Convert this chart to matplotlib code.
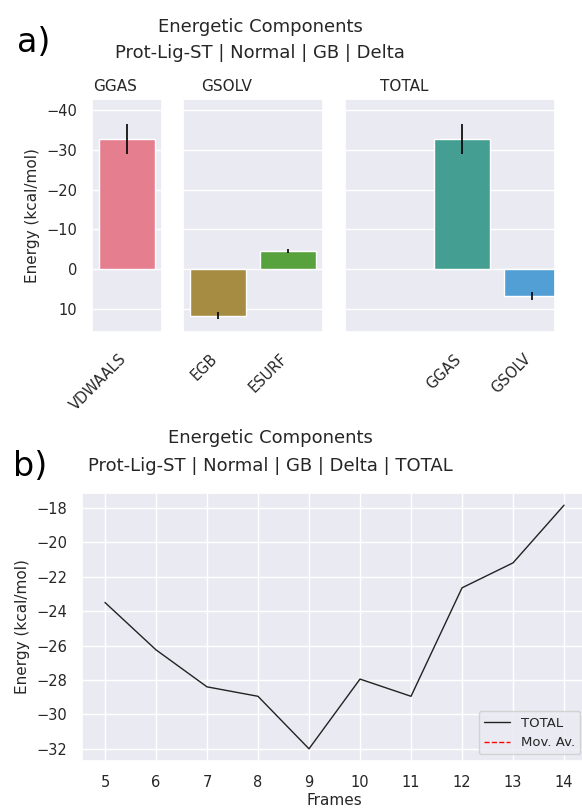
import numpy as np
import pandas as pd
import matplotlib
matplotlib.use('Agg')
from matplotlib import pyplot as plt
import seaborn as sns

# energy terms (kcal/mol): mean and std for each group
ggas_terms = ['VDWAALS']
ggas_means = [-32.8]
ggas_stds = [3.8]

gsolv_terms = ['EGB', 'ESURF']
gsolv_means = [11.7, -4.6]
gsolv_stds = [0.9, 0.6]

total_terms = ['GGAS', 'GSOLV']
total_means = [-32.8, 6.8]
total_stds = [3.8, 1.0]

term_colors = {
    'VDWAALS': '#e57f90',
    'EGB': '#a68c42',
    'ESURF': '#58a23e',
    'GGAS': '#449e91',
    'GSOLV': '#529fd6',
}

# per-frame TOTAL energy
frames = [5, 6, 7, 8, 9, 10, 11, 12, 13, 14]
total_energy = [-23.5, -26.25, -28.4, -28.95, -32.0, -27.95, -28.95, -22.65, -21.2, -17.85]

sns.set_theme(style='darkgrid')
plt.rcParams['font.family'] = ['DejaVu Sans']

W, H = 582, 809
fig = plt.figure(figsize=(W / 100, H / 100), dpi=100)


def px_axes(x0, x1, y0, y1):
    # axes box given in pixels from the top-left corner
    return fig.add_axes([x0 / W, (H - y1) / H, (x1 - x0) / W, (y1 - y0) / H])


def bar_group(ax, terms, means, stds, title, title_x):
    pos = np.arange(len(terms))
    ax.bar(pos, means, width=0.8, color=[term_colors[t] for t in terms],
           edgecolor='white', linewidth=1)
    ax.errorbar(pos, means, yerr=stds, fmt='none', ecolor='black', elinewidth=1.2, capsize=0)
    ax.set_xticks(pos)
    ax.set_xticklabels(terms, rotation=45, ha='right', va='baseline',
                       rotation_mode='anchor', fontsize=10.5)
    ax.xaxis.grid(False)
    ax.set_title(title, fontsize=11, x=title_x, color='0.15')
    ax.set_ylim(15.8, -42.8)
    ax.set_yticks([-40, -30, -20, -10, 0, 10])
    ax.tick_params(axis='both', length=0, labelsize=10.5)
    ax.tick_params(axis='y', pad=10.5)
    ax.tick_params(axis='x', pad=20)


# a) grouped bar chart
ax1 = px_axes(92, 162, 99, 332)
ax2 = px_axes(183, 323, 99, 332)
ax3 = px_axes(345, 555, 99, 332)

bar_group(ax1, ggas_terms, ggas_means, ggas_stds, 'GGAS', 0.33)
bar_group(ax2, gsolv_terms, gsolv_means, gsolv_stds, 'GSOLV', 0.31)
bar_group(ax3, total_terms, total_means, total_stds, 'TOTAL', 0.28)
ax1.set_xlim(-0.5, 0.5)
ax2.set_xlim(-0.5, 1.5)
ax3.set_xlim(-1.67, 1.33)
ax1.set_ylabel('Energy (kcal/mol)', fontsize=11, labelpad=4.5)
ax2.tick_params(axis='y', labelleft=False)
ax3.tick_params(axis='y', labelleft=False)

fig.text(260 / W, 1 - 32 / H, 'Energetic Components', ha='center', va='baseline',
         fontsize=13, color='0.15')
fig.text(260 / W, 1 - 58 / H, 'Prot-Lig-ST | Normal | GB | Delta', ha='center', va='baseline',
         fontsize=13, color='0.15')
fig.text(17 / W, 1 - 52 / H, 'a)', fontsize=24, va='baseline', color='black')

# b) per-frame line plot
ax4 = px_axes(82, 587, 493, 761)
df = pd.DataFrame({'TOTAL': total_energy}, index=frames)
mov_av = df['TOTAL'].rolling(50).mean()
ax4.plot(df.index, df['TOTAL'], color='#222222', linewidth=1, label='TOTAL')
ax4.plot(df.index, mov_av, color='red', linestyle='--', linewidth=1, label='Mov. Av.')
ax4.set_xticks(frames)
ax4.set_yticks([-32, -30, -28, -26, -24, -22, -20, -18])
ax4.tick_params(axis='both', length=0, labelsize=10.5)
ax4.tick_params(axis='y', pad=10.5)
ax4.tick_params(axis='x', pad=10)
ax4.set_xlabel('Frames', fontsize=11, labelpad=2)
ax4.set_ylabel('Energy (kcal/mol)', fontsize=11, labelpad=4.5)
ax4.legend(loc='lower right', fontsize=9.5)

fig.text(270 / W, 1 - 443 / H, 'Energetic Components', ha='center', va='baseline',
         fontsize=13, color='0.15')
fig.text(270 / W, 1 - 471 / H, 'Prot-Lig-ST | Normal | GB | Delta | TOTAL', ha='center',
         va='baseline', fontsize=13, color='0.15')
fig.text(13 / W, 1 - 476 / H, 'b)', fontsize=24, va='baseline', color='black')

fig.savefig('out.png', dpi=100)
